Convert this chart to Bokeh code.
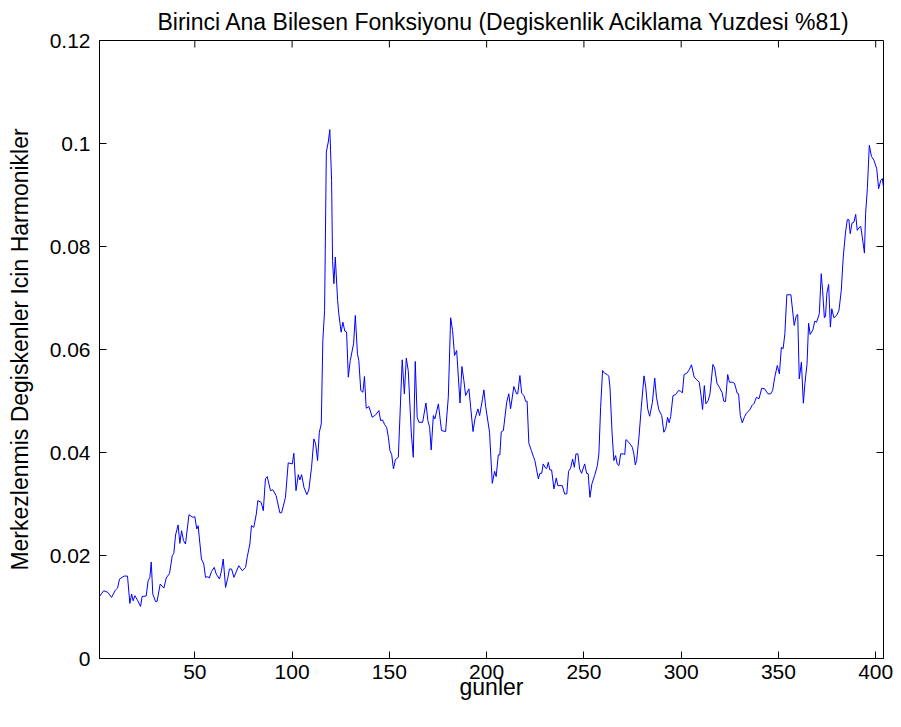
import math
from bokeh.plotting import figure
from bokeh.models import Range1d, LinearAxis, CustomJSTickFormatter, FixedTicker
from bokeh.embed import file_html
from bokeh.resources import INLINE

# days (x) and first principal-component function values (y)
gun = [1.0, 3.2, 5.3, 7.2, 9.2, 10.3, 11.3, 13.7, 15.4, 16.6, 17.5, 18.3, 19.2, 20.5, 22.1, 22.9,
       25.0, 26.0, 26.9, 27.6, 28.4, 29.8, 30.6, 32.2, 34.1, 35.3, 37.0, 38.4, 39.2, 40.1, 41.4,
       42.3, 43.2, 44.2, 45.2, 47.0, 49.0, 50.0, 51.0, 51.7, 53.4, 54.6, 55.5, 56.7, 57.5, 58.6,
       60.0, 61.0, 62.7, 63.7, 64.6, 65.8, 67.0, 67.8, 68.9, 70.1, 72.6, 74.4, 76.1, 76.9, 78.3,
       79.1, 80.3, 81.6, 82.4, 84.1, 85.2, 86.3, 87.2, 88.9, 90.1, 91.8, 93.7, 94.6, 96.6, 98.0,
       100.1, 100.9, 102.0, 103.2, 104.0, 104.9, 106.1, 107.6, 108.6, 110.0, 111.2, 112.1, 113.1,
       114.0, 115.0, 115.8, 116.7, 117.6, 118.6, 119.4, 120.3, 120.8, 121.5, 122.2, 123.4, 124.0,
       125.2, 126.1, 127.1, 128.0, 128.9, 129.9, 131.6, 132.5, 133.6, 134.3, 135.3, 136.4, 137.2,
       138.1, 139.5, 141.2, 142.9, 144.6, 145.5, 146.5, 147.6, 148.6, 149.5, 150.3, 151.2, 152.1,
       153.1, 154.6, 156.6, 157.7, 158.7, 159.7, 161.3, 162.3, 163.3, 164.3, 165.2, 167.1, 168.8,
       169.8, 170.7, 171.5, 172.6, 173.4, 175.2, 176.8, 178.9, 180.3, 181.5, 182.5, 183.5, 184.6,
       186.3, 187.3, 188.3, 189.2, 190.9, 191.8, 193.0, 194.0, 195.5, 196.4, 197.8, 198.6, 199.5,
       201.5, 202.9, 204.1, 204.9, 206.0, 206.8, 207.5, 208.6, 210.3, 211.4, 212.3, 214.0, 215.4,
       216.0, 217.1, 218.0, 219.2, 220.0, 220.8, 221.7, 223.0, 224.0, 224.8, 225.7, 226.6, 227.4,
       228.3, 229.1, 230.2, 230.9, 231.7, 232.5, 233.4, 234.6, 235.8, 236.6, 238.9, 240.1, 241.2,
       242.1, 243.2, 244.2, 245.1, 245.9, 246.9, 247.8, 248.8, 250.4, 251.4, 252.2, 253.1, 254.1,
       255.5, 256.9, 257.7, 258.6, 259.6, 260.6, 262.0, 262.8, 263.4, 264.5, 265.4, 266.3, 267.1,
       268.0, 268.9, 270.2, 271.0, 271.6, 273.1, 274.9, 275.7, 276.4, 277.1, 278.3, 279.5, 280.9,
       281.8, 282.8, 283.8, 285.2, 286.4, 287.3, 288.5, 290.0, 291.1, 292.1, 293.0, 293.8, 294.6,
       295.8, 297.2, 298.6, 299.7, 300.6, 301.5, 302.9, 304.1, 305.3, 306.7, 308.1, 309.3, 310.2,
       311.0, 311.9, 312.7, 313.9, 314.8, 316.3, 317.2, 318.4, 319.6, 321.0, 321.9, 322.8, 323.9,
       324.8, 326.2, 327.4, 328.8, 329.5, 330.4, 331.4, 332.6, 333.5, 335.2, 336.4, 337.5, 338.7,
       340.0, 341.4, 342.9, 344.6, 346.0, 347.0, 348.1, 349.4, 350.5, 351.5, 352.4, 353.3, 354.3,
       356.4, 358.1, 359.2, 359.9, 360.7, 361.8, 362.8, 363.6, 364.7, 365.5, 366.3, 367.7, 368.7,
       369.6, 371.0, 372.0, 372.7, 373.6, 374.2, 374.9, 375.8, 376.7, 377.4, 378.5, 379.9, 381.1,
       382.3, 383.3, 384.5, 385.4, 386.2, 386.9, 387.8, 388.8, 389.7, 390.5, 391.4, 392.3, 393.1,
       394.2, 394.8, 395.7, 396.7, 397.8, 399.1, 400.5, 401.5, 402.6, 403.4, 404.0]

harmonik = [0.01205, 0.01316, 0.01283, 0.01186, 0.01329, 0.01368, 0.01543, 0.01601, 0.01600,
            0.01069, 0.01252, 0.01121, 0.01219, 0.01135, 0.01011, 0.01205, 0.01213, 0.01510,
            0.01575, 0.01874, 0.01252, 0.01108, 0.01108, 0.01446, 0.01368, 0.01563, 0.01652,
            0.01996, 0.02041, 0.02398, 0.02593, 0.02235, 0.02481, 0.02288, 0.02223, 0.02793,
            0.02740, 0.02754, 0.02515, 0.02579, 0.01932, 0.01835, 0.01575, 0.01588, 0.01563,
            0.01691, 0.01769, 0.01640, 0.01543, 0.01705, 0.01932, 0.01380, 0.01575, 0.01738,
            0.01738, 0.01575, 0.01802, 0.01704, 0.01769, 0.01963, 0.02224, 0.02579, 0.02546,
            0.02806, 0.03065, 0.03032, 0.02870, 0.03490, 0.03532, 0.03260, 0.03276, 0.03162,
            0.02830, 0.02830, 0.03130, 0.03798, 0.03778, 0.03985, 0.03260, 0.03570, 0.03467,
            0.03570, 0.03324, 0.03182, 0.03273, 0.03712, 0.04264, 0.04167, 0.03843, 0.04393,
            0.04556, 0.06175, 0.06758, 0.09835, 0.10029, 0.10270, 0.09285, 0.07730, 0.07277,
            0.07794, 0.06953, 0.06694, 0.06336, 0.06531, 0.06356, 0.06340, 0.05462, 0.05786,
            0.06111, 0.06661, 0.05916, 0.05786, 0.05203, 0.05170, 0.05476, 0.04859, 0.04892,
            0.04684, 0.04730, 0.04814, 0.04620, 0.04632, 0.04541, 0.04489, 0.04295, 0.04037,
            0.03959, 0.03681, 0.03862, 0.03907, 0.05800, 0.05138, 0.05832, 0.05592, 0.04361,
            0.03907, 0.05767, 0.04684, 0.04587, 0.04587, 0.04961, 0.04620, 0.04489, 0.04049,
            0.04717, 0.04652, 0.04944, 0.04426, 0.04406, 0.05073, 0.06616, 0.06369, 0.05883,
            0.05980, 0.04961, 0.05670, 0.05398, 0.05106, 0.05236, 0.04878, 0.04406, 0.04652,
            0.04847, 0.04717, 0.05022, 0.05216, 0.04892, 0.04393, 0.03401, 0.03635, 0.03532,
            0.03953, 0.03953, 0.04400, 0.04426, 0.04976, 0.05139, 0.04847, 0.05281, 0.05139,
            0.05139, 0.05495, 0.05151, 0.05106, 0.04995, 0.04995, 0.04179, 0.04037, 0.03926,
            0.03843, 0.03662, 0.03487, 0.03596, 0.03596, 0.03778, 0.03701, 0.03690, 0.03810,
            0.03662, 0.03662, 0.03293, 0.03506, 0.03357, 0.03357, 0.03195, 0.03195, 0.03635,
            0.03701, 0.03875, 0.03712, 0.03973, 0.03973, 0.03681, 0.03596, 0.03778, 0.03596,
            0.03590, 0.03129, 0.03390, 0.03551, 0.03745, 0.03973, 0.04878, 0.05592, 0.05540,
            0.05514, 0.05480, 0.05267, 0.04361, 0.03843, 0.03940, 0.03778, 0.03745, 0.03973,
            0.03973, 0.03960, 0.04251, 0.04198, 0.04101, 0.03973, 0.03759, 0.03843, 0.04295,
            0.04878, 0.05488, 0.05267, 0.04846, 0.04704, 0.04970, 0.05445, 0.05073, 0.04830,
            0.04717, 0.04393, 0.04470, 0.04684, 0.04578, 0.04698, 0.05106, 0.05126, 0.05203,
            0.05190, 0.05158, 0.05514, 0.05540, 0.05605, 0.05703, 0.05462, 0.05411, 0.05365,
            0.05106, 0.04834, 0.05300, 0.04944, 0.05009, 0.05139, 0.05709, 0.05644, 0.05346,
            0.05267, 0.05170, 0.04995, 0.04990, 0.05514, 0.05365, 0.05365, 0.05346, 0.05151,
            0.05140, 0.04717, 0.04575, 0.04698, 0.04762, 0.04827, 0.04910, 0.04955, 0.05073,
            0.05042, 0.05248, 0.05236, 0.05139, 0.05139, 0.05203, 0.05462, 0.05689, 0.05527,
            0.06045, 0.06014, 0.06305, 0.07063, 0.07063, 0.06467, 0.06661, 0.06680, 0.05430,
            0.05753, 0.04957, 0.05333, 0.05722, 0.06511, 0.06292, 0.06383, 0.06550, 0.06530,
            0.06694, 0.07471, 0.07147, 0.06616, 0.06650, 0.07094, 0.07263, 0.06434, 0.06791,
            0.06616, 0.06661, 0.06758, 0.07147, 0.07794, 0.08280, 0.08521, 0.08521, 0.08249,
            0.08455, 0.08474, 0.08624, 0.08313, 0.08365, 0.08390, 0.08183, 0.07872, 0.08638,
            0.09123, 0.09965, 0.09751, 0.09673, 0.09512, 0.09123, 0.09285, 0.09318, 0.09155]

x_ticks = [50, 100, 150, 200, 250, 300, 350, 400]
y_ticks = [0, 0.02, 0.04, 0.06, 0.08, 0.1, 0.12]
x_min, x_max = 1, 404
y_min, y_max = 0, 0.12

title = "Birinci Ana Bilesen Fonksiyonu (Degiskenlik Aciklama Yuzdesi %81)"
x_label = "gunler"
y_label = "Merkezlenmis Degiskenler Icin Harmonikler"

FONT = "Liberation Sans"

p = figure(width=893, height=719, output_backend="svg", toolbar_location=None,
           x_range=Range1d(x_min, x_max), y_range=Range1d(y_min, y_max),
           min_border_left=99, min_border_right=10, min_border_top=40,
           min_border_bottom=61, x_axis_location=None, y_axis_location=None)

p.background_fill_color = "white"
p.border_fill_color = "white"
p.outline_line_color = "black"
p.outline_line_width = 1
p.grid.visible = False

p.title.text = title
p.title.align = "left"
p.title.offset = 58
p.title.vertical_align = "bottom"
p.title.text_font = FONT
p.title.text_font_size = "23px"
p.title.text_font_style = "normal"
p.title.text_color = "black"
p.title.standoff = 12


def style(ax):
    ax.axis_line_color = "black"
    ax.major_tick_in = 7
    ax.major_tick_out = 0
    ax.minor_tick_line_color = None
    ax.major_tick_line_color = "black"
    ax.major_label_text_font = FONT
    ax.major_label_text_font_size = "21px"
    ax.major_label_text_color = "black"
    ax.axis_label_text_font = FONT
    ax.axis_label_text_font_size = "23px"
    ax.axis_label_text_font_style = "normal"
    ax.axis_label_text_color = "black"


xb = LinearAxis(ticker=FixedTicker(ticks=x_ticks), axis_label=x_label)
style(xb)
xb.major_label_standoff = 6
xb.axis_label_standoff = -8
p.add_layout(xb, "below")

fmt = CustomJSTickFormatter(code="return (Math.round(tick*1000)/1000).toString();")
yl = LinearAxis(ticker=FixedTicker(ticks=y_ticks), formatter=fmt, axis_label=y_label)
style(yl)
yl.major_label_standoff = 9
yl.axis_label_standoff = 14
p.add_layout(yl, "left")

# inward tick marks on the top and right edges of the box (MATLAB "box on")
p.ray(x=x_ticks, y=[y_max] * len(x_ticks), length=7, length_units="screen",
      angle=-math.pi / 2, line_color="black", line_width=1)
p.ray(x=[x_max] * len(y_ticks), y=y_ticks, length=7, length_units="screen",
      angle=math.pi, line_color="black", line_width=1)

p.line(gun, harmonik, line_color="#0000ff", line_width=1)

open("out.html", "w").write(file_html(p, INLINE))
